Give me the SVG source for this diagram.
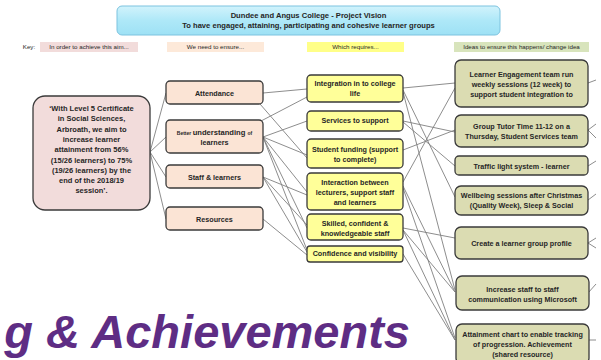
<svg xmlns="http://www.w3.org/2000/svg" width="601" height="360" viewBox="0 0 601 360">
<defs>
<linearGradient id="tg" x1="0" y1="0" x2="0" y2="1">
<stop offset="0" stop-color="#d2f3fc"/>
<stop offset="0.5" stop-color="#aee8f8"/>
<stop offset="1" stop-color="#9ee1f5"/>
</linearGradient>
<style>
text{font-family:"Liberation Sans",Arial,sans-serif;font-weight:bold;fill:#262626;text-anchor:middle;font-size:7.2px}
.key{font-weight:normal;font-size:6.2px}
.box{stroke:#3a3a3a;stroke-width:1.3}
.aim{fill:#f2dcdb}
.peach{fill:#fbe4d5}
.yel{fill:#ffff99}
.grn{fill:#dbdcb2}
.c line{stroke:#808080;stroke-width:0.9}
.big{font-size:47px;font-style:italic;fill:#5e2d84;text-anchor:end}
</style>
</defs>
<rect width="601" height="360" fill="#ffffff"/>

<g id="title">
<rect x="117" y="6" width="383" height="29" rx="5" fill="url(#tg)" stroke="#7cc3df" stroke-width="1"/>
<text x="308.5" y="18" style="font-size:7.6px">Dundee and Angus College  - Project Vision</text>
<text x="308.5" y="28" style="font-size:7.6px">To have engaged, attaining, participating and cohesive learner  groups</text>
</g>

<g id="key">
<text class="key" x="29" y="49">Key:</text>
<rect x="40" y="42" width="98" height="10" fill="#f2dcdb"/>
<text class="key" x="89" y="49">In order to achieve this aim...</text>
<rect x="167" y="42" width="97" height="10" fill="#fde9d9"/>
<text class="key" x="215.5" y="49">We need to ensure...</text>
<rect x="307" y="42" width="97" height="10" fill="#ffff88"/>
<text class="key" x="355.5" y="49">Which requires...</text>
<rect x="454" y="42" width="135" height="10" fill="#d8e4bc"/>
<text class="key" x="521.5" y="49">Ideas to ensure this happens/ change idea</text>
</g>

<g class="c" id="connectors">
<line x1="150" y1="152" x2="166" y2="93"/>
<line x1="150" y1="152" x2="166" y2="137"/>
<line x1="150" y1="152" x2="166" y2="177"/>
<line x1="150" y1="152" x2="166" y2="219"/>

<line x1="263" y1="93" x2="307" y2="89"/>
<line x1="260" y1="104" x2="307" y2="158"/>
<line x1="261" y1="121" x2="307" y2="97"/>
<line x1="263" y1="137" x2="307" y2="121"/>
<line x1="263" y1="137" x2="307" y2="155"/>
<line x1="263" y1="137" x2="307" y2="192"/>
<line x1="263" y1="137" x2="307" y2="228"/>
<line x1="263" y1="137" x2="307" y2="250"/>
<line x1="263" y1="177" x2="307" y2="195"/>
<line x1="263" y1="177" x2="307" y2="225"/>
<line x1="263" y1="177" x2="307" y2="252"/>
<line x1="263" y1="219" x2="307" y2="255"/>

<line x1="403" y1="88" x2="455" y2="83"/>
<line x1="403" y1="90" x2="455" y2="197"/>
<line x1="403" y1="92" x2="455" y2="290"/>
<line x1="403" y1="121" x2="455" y2="132"/>
<line x1="403" y1="122" x2="455" y2="166"/>
<line x1="403" y1="150" x2="455" y2="130"/>
<line x1="403" y1="182" x2="455" y2="88"/>
<line x1="403" y1="186" x2="455" y2="292"/>
<line x1="403" y1="188" x2="455" y2="338"/>
<line x1="403" y1="228" x2="455" y2="238"/>
<line x1="403" y1="230" x2="455" y2="292"/>
<line x1="403" y1="230" x2="455" y2="340"/>
<line x1="403" y1="254" x2="455" y2="340"/>

<line x1="588" y1="83" x2="596" y2="80"/>
<line x1="588" y1="130" x2="596" y2="124"/>
<line x1="588" y1="130" x2="596" y2="138"/>
<line x1="588" y1="166" x2="596" y2="161"/>
<line x1="588" y1="200" x2="596" y2="194"/>
<line x1="588" y1="243" x2="596" y2="238"/>
<line x1="588" y1="243" x2="596" y2="248"/>
<line x1="588" y1="293" x2="596" y2="284"/>
<line x1="588" y1="340" x2="596" y2="340"/>
</g>

<g id="aim">
<rect class="box aim" x="33" y="96" width="117" height="114" rx="12"/>
<text x="91.5" y="111" style="font-size:7.5px">‘With Level 5 Certificate</text>
<text x="91.5" y="121.3" style="font-size:7.5px">in Social Sciences,</text>
<text x="91.5" y="131.6" style="font-size:7.5px">Arbroath, we aim to</text>
<text x="91.5" y="141.9" style="font-size:7.5px">increase learner</text>
<text x="91.5" y="152.2" style="font-size:7.5px">attainment from 56%</text>
<text x="91.5" y="162.5" style="font-size:7.5px">(15/26 learners) to 75%</text>
<text x="91.5" y="172.8" style="font-size:7.5px">(19/26 learners) by the</text>
<text x="91.5" y="183.1" style="font-size:7.5px">end of the 2018/19</text>
<text x="91.5" y="193.4" style="font-size:7.5px">session’.</text>
</g>

<g id="attendance">
<rect class="box peach" x="166" y="81" width="97" height="23" rx="4"/>
<text x="214.5" y="95.5">Attendance</text>
</g>
<g id="better">
<rect class="box peach" x="166" y="120" width="97" height="33" rx="4"/>
<text x="214.5" y="134.5"><tspan style="font-size:5px">Better </tspan><tspan style="font-size:7.6px">understanding </tspan><tspan style="font-size:5px">of</tspan></text>
<text x="214.5" y="145">learners</text>
</g>
<g id="staff">
<rect class="box peach" x="166" y="165" width="97" height="23" rx="4"/>
<text x="214.5" y="179.5">Staff &amp; learners</text>
</g>
<g id="resources">
<rect class="box peach" x="166" y="207" width="97" height="23" rx="4"/>
<text x="214.5" y="221.5">Resources</text>
</g>

<g id="integration">
<rect class="box yel" x="307" y="75" width="96" height="27" rx="4"/>
<text x="355" y="86">Integration in to college</text>
<text x="355" y="96">life</text>
</g>
<g id="services">
<rect class="box yel" x="307" y="111" width="96" height="20" rx="4"/>
<text x="355" y="123">Services to support</text>
</g>
<g id="funding">
<rect class="box yel" x="307" y="139" width="96" height="29" rx="4"/>
<text x="355" y="151.8">Student funding (support</text>
<text x="355" y="161.8">to complete)</text>
</g>
<g id="interaction">
<rect class="box yel" x="307" y="173" width="96" height="37" rx="4"/>
<text x="355" y="185.2">Interaction between</text>
<text x="355" y="195.2">lecturers,  support staff</text>
<text x="355" y="205.2">and learners</text>
</g>
<g id="skilled">
<rect class="box yel" x="307" y="214" width="96" height="26" rx="4"/>
<text x="355" y="225.5">Skilled, confident &amp;</text>
<text x="355" y="235.5">knowledgeable staff</text>
</g>
<g id="confidence">
<rect class="box yel" x="307" y="246" width="96" height="16" rx="3"/>
<text x="355" y="256">Confidence and visibility</text>
</g>

<g id="learner-engagement">
<rect class="box grn" x="455" y="60" width="133" height="47" rx="6"/>
<text x="521.5" y="76.5">Learner Engagement team run</text>
<text x="521.5" y="86.5">weekly sessions (12 week) to</text>
<text x="521.5" y="96.5">support student integration to</text>
</g>
<g id="group-tutor">
<rect class="box grn" x="455" y="115" width="133" height="32" rx="6"/>
<text x="521.5" y="128.5">Group Tutor Time 11-12 on a</text>
<text x="521.5" y="138.5">Thursday, Student Services team</text>
</g>
<g id="traffic-light">
<rect class="box grn" x="455" y="156" width="133" height="19" rx="4"/>
<text x="521.5" y="168.5">Traffic light system - learner</text>
</g>
<g id="wellbeing">
<rect class="box grn" x="455" y="186" width="133" height="29" rx="6"/>
<text x="521.5" y="197.5">Wellbeing sessions after Christmas</text>
<text x="521.5" y="207.5">(Quality Week), Sleep &amp; Social</text>
</g>
<g id="group-profile">
<rect class="box grn" x="455" y="227" width="133" height="32" rx="6"/>
<text x="521.5" y="245.5">Create a learner group profile</text>
</g>
<g id="staff-communication">
<rect class="box grn" x="456" y="276" width="133" height="34" rx="6"/>
<text x="522.5" y="291.5">Increase staff to staff</text>
<text x="522.5" y="301.5">communication using Microsoft</text>
</g>
<g id="attainment-chart">
<rect class="box grn" x="456" y="324" width="133" height="40" rx="6"/>
<text x="522.5" y="336.5">Attainment chart to enable tracking</text>
<text x="522.5" y="346.5">of progression. Achievement</text>
<text x="522.5" y="356.5">(shared resource)</text>
</g>

<text class="big" x="410" y="348">g &amp; Achievements</text>
</svg>
